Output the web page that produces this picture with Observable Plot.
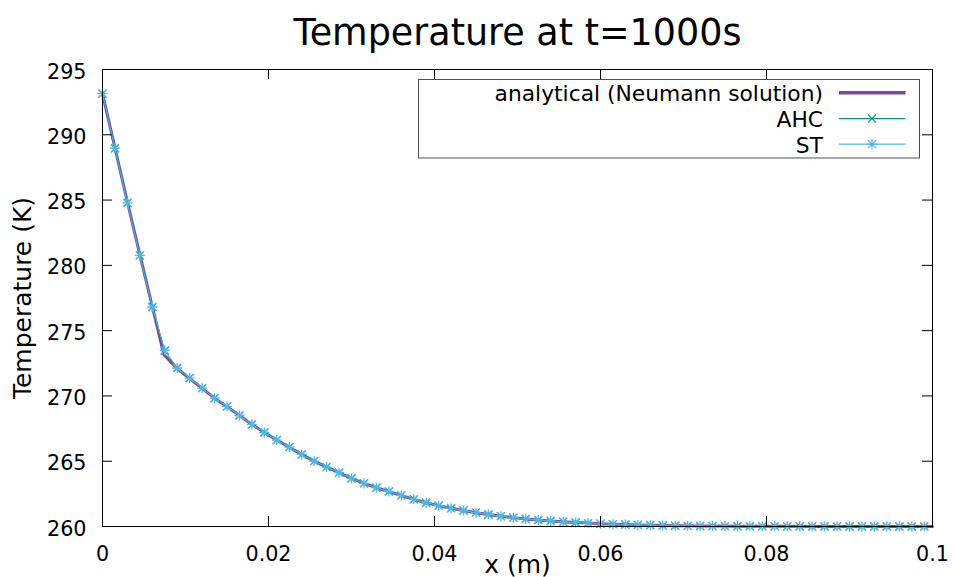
<!DOCTYPE html>
<html><head><meta charset="utf-8">
<script src="https://cdn.jsdelivr.net/npm/d3@7"></script>
<script src="https://cdn.jsdelivr.net/npm/@observablehq/plot@0.6"></script>
<style>
html,body{margin:0;padding:0;background:#fff;}
#wrap{position:relative;width:955px;height:577px;overflow:hidden;font-family:"DejaVu Sans",sans-serif;}
#wrap svg{display:block;}
#legend{position:absolute;left:0;top:0;}
</style></head><body><div id="wrap"></div>
<script>
const titleText = "Temperature at t=1000s";
const xLabel = "x (m)";
const yLabel = "Temperature (K)";
const seriesNames = ["analytical (Neumann solution)", "AHC", "ST"];
const seriesColors = ["#7b4a9a", "#009e73", "#56b4e9"];
const xTicks = [0, 0.02, 0.04, 0.06, 0.08, 0.1];
const yTicks = [260, 265, 270, 275, 280, 285, 290, 295];

const xNum = [0, 0.0015, 0.003, 0.0045, 0.006, 0.0075, 0.009, 0.0105, 0.012, 0.0135,
  0.015, 0.0165, 0.018, 0.0195, 0.021, 0.0225, 0.024, 0.0255, 0.027, 0.0285,
  0.03, 0.0315, 0.033, 0.0345, 0.036, 0.0375, 0.039, 0.0405, 0.042, 0.0435,
  0.045, 0.0465, 0.048, 0.0495, 0.051, 0.0525, 0.054, 0.0555, 0.057, 0.0585,
  0.06, 0.0615, 0.063, 0.0645, 0.066, 0.0675, 0.069, 0.0705, 0.072, 0.0735,
  0.075, 0.0765, 0.078, 0.0795, 0.081, 0.0825, 0.084, 0.0855, 0.087, 0.0885,
  0.09, 0.0915, 0.093, 0.0945, 0.096, 0.0975, 0.099];
const tST = [293.15, 288.97, 284.78, 280.77, 276.81, 273.5, 272.14, 271.37, 270.6, 269.83,
  269.2, 268.5, 267.82, 267.2, 266.62, 266.08, 265.52, 265.01, 264.55, 264.12,
  263.68, 263.3, 262.97, 262.68, 262.38, 262.08, 261.82, 261.6, 261.4, 261.22,
  261.06, 260.92, 260.79, 260.68, 260.58, 260.5, 260.42, 260.36, 260.31, 260.26,
  260.22, 260.18, 260.15, 260.12, 260.1, 260.08, 260.06, 260.05, 260.04, 260.03,
  260.03, 260.02, 260.02, 260.01, 260.01, 260.01, 260.01, 260.0, 260.0, 260.0,
  260.0, 260.0, 260.0, 260.0, 260.0, 260.0, 260.0];
const tAHC = [293.15, 288.97, 284.78, 280.77, 276.81, 273.45, 272.14, 271.37, 270.6, 269.83,
  269.2, 268.5, 267.82, 267.2, 266.62, 266.08, 265.52, 265.01, 264.55, 264.12,
  263.68, 263.3, 262.97, 262.68, 262.38, 262.08, 261.82, 261.6, 261.4, 261.22,
  261.06, 260.92, 260.79, 260.68, 260.58, 260.5, 260.42, 260.36, 260.31, 260.26,
  260.22, 260.18, 260.15, 260.12, 260.1, 260.08, 260.06, 260.05, 260.04, 260.03,
  260.03, 260.02, 260.02, 260.01, 260.01, 260.01, 260.01, 260.0, 260.0, 260.0,
  260.0, 260.0, 260.0, 260.0, 260.0, 260.0, 260.0];
const xAnalytical = [0, 0.0015, 0.003, 0.0045, 0.006, 0.0074, 0.009, 0.0105, 0.012, 0.0135,
  0.015, 0.0165, 0.018, 0.0195, 0.021, 0.0225, 0.024, 0.0255, 0.027, 0.0285,
  0.03, 0.0315, 0.033, 0.0345, 0.036, 0.0375, 0.039, 0.0405, 0.042, 0.0435,
  0.045, 0.0465, 0.048, 0.0495, 0.051, 0.0525, 0.054, 0.0555, 0.057, 0.0585,
  0.06, 0.0615, 0.063, 0.0645, 0.066, 0.0675, 0.069, 0.0705, 0.072, 0.0735,
  0.075, 0.0765, 0.078, 0.0795, 0.081, 0.0825, 0.084, 0.0855, 0.087, 0.0885,
  0.09, 0.0915, 0.093, 0.0945, 0.096, 0.0975, 0.1];
const tAnalytical = [293.15, 289.0, 284.85, 280.82, 276.85, 273.15, 272.1, 271.33, 270.58, 269.83,
  269.18, 268.5, 267.82, 267.2, 266.62, 266.07, 265.52, 265.01, 264.55, 264.12,
  263.68, 263.3, 262.97, 262.67, 262.37, 262.08, 261.82, 261.6, 261.4, 261.22,
  261.06, 260.92, 260.79, 260.68, 260.58, 260.49, 260.42, 260.36, 260.31, 260.26,
  260.22, 260.18, 260.15, 260.12, 260.1, 260.08, 260.06, 260.05, 260.04, 260.03,
  260.03, 260.02, 260.02, 260.01, 260.01, 260.01, 260.01, 260.0, 260.0, 260.0,
  260.0, 260.0, 260.0, 260.0, 260.0, 260.0, 260.0];

const stData = xNum.map((x, i) => ({x, t: tST[i]}));
const ahcData = xNum.map((x, i) => ({x, t: tAHC[i]}));
const anData = xAnalytical.map((x, i) => ({x, t: tAnalytical[i]}));

const starSymbol = {draw(ctx, size) {
  const r = Math.sqrt(size / Math.PI), d = r * 0.8;
  ctx.moveTo(-r, 0); ctx.lineTo(r, 0);
  ctx.moveTo(0, -r); ctx.lineTo(0, r);
  ctx.moveTo(-d, -d); ctx.lineTo(d, d);
  ctx.moveTo(-d, d); ctx.lineTo(d, -d);
}};
const timesSymbol = {draw(ctx, size) {
  const r = Math.sqrt(size / Math.PI), d = r * 0.8;
  ctx.moveTo(-d, -d); ctx.lineTo(d, d);
  ctx.moveTo(-d, d); ctx.lineTo(d, -d);
}};

const W = 955, H = 577, mL = 102, mR = 23, mT = 69, mB = 51;
const pw = W - mL - mR, ph = H - mT - mB;
const FS = 20.7;

const chart = Plot.plot({
  width: W, height: H,
  marginLeft: mL, marginRight: mR, marginTop: mT, marginBottom: mB,
  x: {domain: [0, 0.1]},
  y: {domain: [260, 295]},
  style: {fontFamily: "DejaVu Sans", fontSize: FS + "px", color: "black", background: "white"},
  marks: [
    Plot.line(anData, {x: "x", y: "t", stroke: seriesColors[0], strokeWidth: 3}),
    Plot.line(ahcData, {x: "x", y: "t", stroke: seriesColors[1], strokeWidth: 1}),
    Plot.dot(ahcData, {x: "x", y: "t", symbol: timesSymbol, r: 5, stroke: seriesColors[1], fill: "none", strokeWidth: 1.2}),
    Plot.line(stData, {x: "x", y: "t", stroke: seriesColors[2], strokeWidth: 1}),
    Plot.dot(stData, {x: "x", y: "t", symbol: starSymbol, r: 5, stroke: seriesColors[2], fill: "none", strokeWidth: 1.3}),
    Plot.frame({stroke: "black", strokeWidth: 1}),
    Plot.tickY(yTicks, {y: d => d, insetRight: pw - 10, stroke: "black"}),
    Plot.tickY(yTicks, {y: d => d, insetLeft: pw - 10, stroke: "black"}),
    Plot.tickX(xTicks, {x: d => d, insetTop: ph - 10, stroke: "black"}),
    Plot.tickX(xTicks, {x: d => d, insetBottom: ph - 10, stroke: "black"}),
    Plot.axisY(yTicks, {tickSize: 0, tickPadding: 16, label: null, fontSize: FS, dy: 2.5}),
    Plot.axisX(xTicks, {tickSize: 0, tickPadding: 20, label: null, fontSize: FS, tickFormat: d => String(d)}),
    Plot.text([yLabel], {text: d => d, frameAnchor: "left", textAnchor: "middle", dx: -80, rotate: -90, fontSize: 25}),
    Plot.text([xLabel], {text: d => d, frameAnchor: "bottom", textAnchor: "middle", dy: 46, lineAnchor: "bottom", fontSize: 25}),
    Plot.text([titleText], {text: d => d, frameAnchor: "top", textAnchor: "middle", dy: -24.5, lineAnchor: "bottom", fontSize: 36.5})
  ]
});
const wrap = document.getElementById("wrap");
wrap.appendChild(chart);

// legend overlay (gnuplot-style key box)
const leg = d3.select(wrap).append("svg").attr("id", "legend").attr("width", W).attr("height", H)
  .style("font-family", "DejaVu Sans").style("font-size", "21.8px");
leg.append("rect").attr("x", 418.5).attr("y", 79.5).attr("width", 501).attr("height", 78.5)
  .attr("fill", "white").attr("stroke", "#505050").attr("stroke-width", 1);
const rowsBase = [101.4, 127.2, 152.8];
seriesNames.forEach((name, i) => {
  const b = rowsBase[i];
  leg.append("text").attr("x", 823).attr("y", b).attr("text-anchor", "end").text(name);
  leg.append("line").attr("x1", 839).attr("x2", 905.5).attr("y1", b - 8.6).attr("y2", b - 8.6)
    .attr("stroke", seriesColors[i]).attr("stroke-width", i === 0 ? 3.5 : 1.2);
  if (i > 0) {
    const p = d3.path();
    (i === 1 ? timesSymbol : starSymbol).draw(p, Math.PI * 25);
    leg.append("path").attr("d", p.toString()).attr("transform", `translate(872,${b - 8.6})`)
      .attr("stroke", seriesColors[i]).attr("fill", "none").attr("stroke-width", 1.2);
  }
});
</script></body></html>
